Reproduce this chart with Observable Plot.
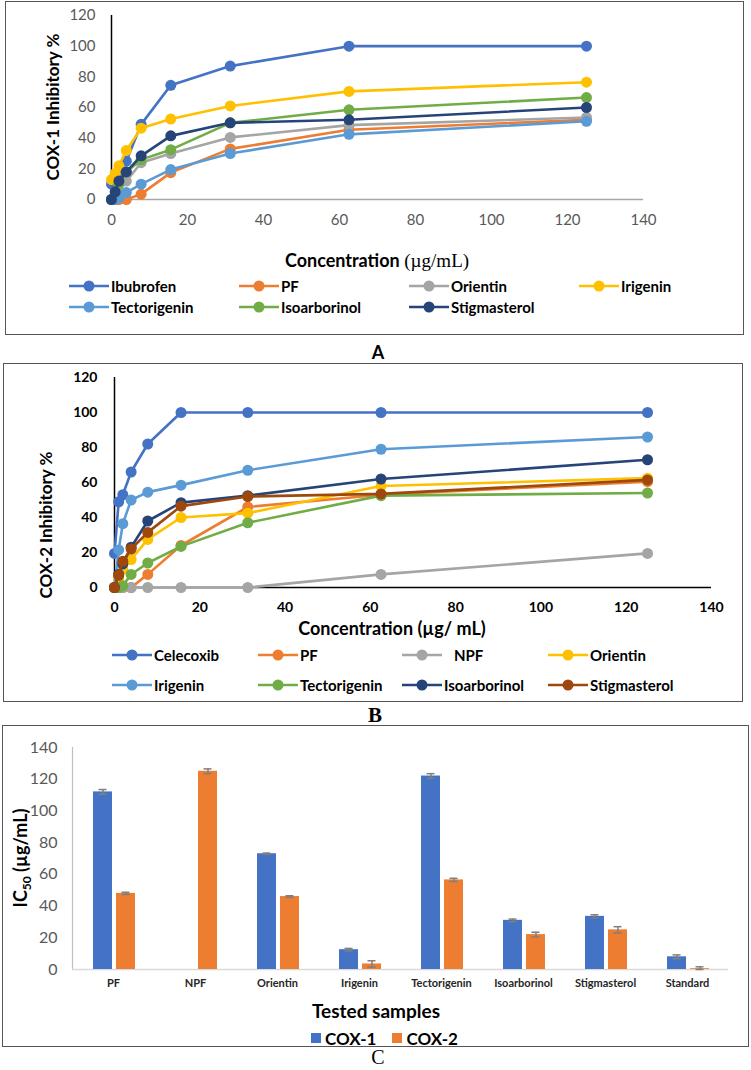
<!DOCTYPE html>
<html><head><meta charset="utf-8">
<script src="https://cdn.jsdelivr.net/npm/d3@7"></script>
<script src="https://cdn.jsdelivr.net/npm/@observablehq/plot@0.6"></script>
<style>
body{margin:0;background:#fff;}
#root{position:relative;width:751px;height:1070px;overflow:hidden;font-family:Lato,"Open Sans",sans-serif;background:#fff;}
.box{position:absolute;border:1.5px solid #555;box-sizing:border-box;}
.abs{position:absolute;white-space:nowrap;line-height:1;}
.leg{position:absolute;white-space:nowrap;display:flex;align-items:center;font-weight:bold;font-size:15px;color:#000;}
</style></head><body><div id="root"></div>
<script>
// ---------- DATA ----------
const conc = [0, 0.98, 1.95, 3.9, 7.8, 15.6, 31.25, 62.5, 125];

// Panel A (COX-1 inhibitory %)
const seriesA = ["Ibubrofen","PF","Orientin","Irigenin","Tectorigenin","Isoarborinol","Stigmasterol"];
const colorsA = ["#4472C4","#ED7D31","#A5A5A5","#FFC000","#5B9BD5","#70AD47","#264478"];
const ibubrofenA    = [10, 13, 17, 25, 49, 74.5, 87, 100, 100];
const pfA           = [0, 0, 0, 0, 3.5, 17.5, 33, 45.5, 52];
const orientinA     = [0, 3, 6, 12, 24, 30, 40.5, 48.5, 53.5];
const irigeninA     = [13, 17, 22, 32, 46.5, 52.5, 61, 70.5, 76.5];
const tectorigeninA = [0, 0, 1, 4.5, 10, 19.5, 30, 42.5, 51];
const isoarborinolA = [0, 5, 10, 18, 26, 32.5, 50, 58.5, 66.5];
const stigmasterolA = [0, 5, 12, 18, 28.5, 41.5, 50, 52, 60];
const valuesA = [ibubrofenA, pfA, orientinA, irigeninA, tectorigeninA, isoarborinolA, stigmasterolA];

// Panel B (COX-2 inhibitory %)
const seriesB = ["Celecoxib","PF","NPF","Orientin","Irigenin","Tectorigenin","Isoarborinol","Stigmasterol"];
const colorsB = ["#4472C4","#ED7D31","#A5A5A5","#FFC000","#5B9BD5","#70AD47","#264478","#9E480E"];
const celecoxibB    = [19.5, 49, 53, 66, 82, 100, 100, 100, 100];
const pfB           = [0, 0, 0, 0, 7.5, 24, 46, 53, 60.5];
const npfB          = [0, 0, 0, 0, 0, 0, 0, 7.5, 19.5];
const orientinB     = [0, 5, 10.5, 16, 27.5, 40, 42.5, 58, 62.5];
const irigeninB     = [0, 21.5, 36.5, 50, 54.5, 58.5, 67, 79, 86];
const tectorigeninB = [0, 0, 1, 7.5, 14, 23.5, 37, 52.5, 54];
const isoarborinolB = [0, 7.5, 13.5, 23, 38, 48.5, 52.5, 62, 73];
const stigmasterolB = [0, 7, 15, 22, 31.5, 46.5, 52, 53.5, 61.5];
const valuesB = [celecoxibB, pfB, npfB, orientinB, irigeninB, tectorigeninB, isoarborinolB, stigmasterolB];

// Panel C (IC50)
const samples = ["PF","NPF","Orientin","Irigenin","Tectorigenin","Isoarborinol","Stigmasterol","Standard"];
const cox1    = [112, null, 73, 12.5, 122, 31, 33.5, 8];
const cox1Err = [1.5, null, 0.4, 0.8, 1.5, 0.8, 1, 1.2];
const cox2    = [48, 125, 46, 3.5, 56.5, 22, 25, 0.5];
const cox2Err = [0.7, 1.5, 0.5, 2, 1, 1.5, 2, 1.2];
const enzymes = ["COX-1","COX-2"];
const enzymeColors = ["#4472C4","#ED7D31"];

const xTicks = [0,20,40,60,80,100,120,140];
const yTicksPct = [0,20,40,60,80,100,120];
const yTicksIC = [0,20,40,60,80,100,120,140];

// ---------- HELPERS ----------
const root = document.getElementById("root");
const FONT = "Lato, 'Open Sans', sans-serif";
function addText(html, x, y, style, rotate) {
  const d = document.createElement("div");
  d.className = "abs";
  d.innerHTML = html;
  d.style.left = x + "px"; d.style.top = y + "px";
  d.style.transform = "translate(-50%,-50%)" + (rotate ? " rotate(-90deg)" : "");
  Object.assign(d.style, style);
  root.appendChild(d);
}
function addBox(l, t, r, b) {
  const d = document.createElement("div");
  d.className = "box";
  Object.assign(d.style, {left: l + "px", top: t + "px", width: (r - l) + "px", height: (b - t) + "px"});
  root.appendChild(d);
}
function addSvg(svg, top) {
  svg.style.position = "absolute"; svg.style.left = "0px"; svg.style.top = top + "px";
  svg.style.background = "transparent";
  root.appendChild(svg);
}
function addLegend(x, y, color, label, textOffset) {
  const d = document.createElement("div");
  d.className = "leg";
  d.style.left = x + "px"; d.style.top = (y - 9) + "px"; d.style.height = "18px";
  d.innerHTML = `<svg width="40" height="14" style="margin-right:${textOffset}px"><line x1="0" x2="40" y1="7" y2="7" stroke="${color}" stroke-width="2.5"/><circle cx="20" cy="7" r="5.5" fill="${color}"/></svg><span>${label}</span>`;
  root.appendChild(d);
}
function longData(names, arrays) {
  return names.map((s, i) => conc.map((c, j) => ({series: s, conc: c, value: arrays[i][j]})));
}

// ---------- PANEL A ----------
addBox(5, 1, 744, 335);
const dataA = longData(seriesA, valuesA);
const plotA = Plot.plot({
  width: 751, height: 240,
  marginLeft: 111, marginRight: 108, marginTop: 15, marginBottom: 41,
  style: {fontFamily: FONT, fontSize: "15px", color: "#595959", background: "transparent"},
  x: {domain: [0, 140], ticks: xTicks, tickSize: 0, tickPadding: 15, label: null},
  y: {domain: [0, 120], ticks: yTicksPct, tickSize: 0, tickPadding: 16, label: null},
  marks: [
    Plot.ruleY([0], {stroke: "#a6a6a6", strokeWidth: 1.5}),
    Plot.ruleX([0], {stroke: "#000", strokeWidth: 1.5}),
    ...dataA.flatMap((d, i) => [
      Plot.line(d, {x: "conc", y: "value", stroke: colorsA[i], strokeWidth: 2.6}),
      Plot.dot(d, {x: "conc", y: "value", fill: colorsA[i], r: 5.5})
    ])
  ]
});
addSvg(plotA, 0);
addText("COX-1 Inhibitory %", 52, 107, {fontWeight: "bold", fontSize: "17px", color: "#000"}, true);
addText('<b>Concentration</b> <span style="font-family:\'Liberation Serif\',serif;font-size:19px">(µg/mL)</span>', 377, 260, {fontSize: "18px", color: "#000"});
const colsA = [69, 239, 409, 579], rowsA = [286, 307];
seriesA.forEach((s, i) => addLegend(colsA[i % 4], rowsA[Math.floor(i / 4)], colorsA[i], s, 2));
addText("A", 378, 352, {fontWeight: "bold", fontSize: "18px", color: "#000"});

// ---------- PANEL B ----------
addBox(3, 363, 743, 702);
const dataB = longData(seriesB, valuesB);
const plotB = Plot.plot({
  width: 751, height: 260,
  marginLeft: 114, marginRight: 40, marginTop: 15, marginBottom: 35,
  style: {fontFamily: FONT, fontSize: "14px", fontWeight: "bold", color: "#000", background: "transparent"},
  x: {domain: [0, 140], ticks: xTicks, tickSize: 0, tickPadding: 15, label: null},
  y: {domain: [0, 120], ticks: yTicksPct, tickSize: 0, tickPadding: 17, label: null},
  marks: [
    Plot.ruleY([0], {stroke: "#000", strokeWidth: 1.5}),
    Plot.ruleX([0], {stroke: "#000", strokeWidth: 1.5}),
    ...dataB.flatMap((d, i) => [
      Plot.line(d, {x: "conc", y: "value", stroke: colorsB[i], strokeWidth: 2.6}),
      Plot.dot(d, {x: "conc", y: "value", fill: colorsB[i], r: 5.5})
    ])
  ]
});
addSvg(plotB, 362);
addText("COX-2 Inhibitory %", 45, 525, {fontWeight: "bold", fontSize: "17px", color: "#000"}, true);
addText("Concentration (µg/ mL)", 392, 628, {fontWeight: "bold", fontSize: "18px", color: "#000"});
const colsB = [112, 258, 402, 548], rowsB = [655, 685];
seriesB.forEach((s, i) => addLegend(colsB[i % 4], rowsB[Math.floor(i / 4)], colorsB[i], s, s === "NPF" ? 12 : 2));
addText("B", 375, 715, {fontWeight: "bold", fontSize: "21px", color: "#000", fontFamily: "'Liberation Serif', serif"});

// ---------- PANEL C ----------
addBox(2, 725, 749, 1047);
const dataC1 = samples.map((s, i) => ({sample: s, value: cox1[i], err: cox1Err[i]})).filter(d => d.value != null);
const dataC2 = samples.map((s, i) => ({sample: s, value: cox2[i], err: cox2Err[i]})).filter(d => d.value != null);
const plotC = Plot.plot({
  width: 751, height: 270,
  marginLeft: 72, marginRight: 23, marginTop: 22, marginBottom: 26,
  style: {fontFamily: FONT, background: "transparent"},
  x: {domain: samples, padding: 0, label: null, axis: null},
  y: {domain: [0, 140], label: null, axis: null},
  marks: [
    Plot.axisY({ticks: yTicksIC, tickSize: 0, tickPadding: 15, fontSize: 16, fill: "#595959", label: null}),
    Plot.axisX({tickSize: 0, tickPadding: 10, fontSize: 11, fontWeight: "bold", fill: "#262626", label: null}),
    Plot.frame({anchor: "left", stroke: "#bfbfbf", strokeWidth: 1.2}),
    Plot.ruleY([0], {stroke: "#d9d9d9", strokeWidth: 1.5}),
    Plot.barY(dataC1, {x: "sample", y: "value", fill: enzymeColors[0], insetLeft: 21, insetRight: 42}),
    Plot.barY(dataC2, {x: "sample", y: "value", fill: enzymeColors[1], insetLeft: 44, insetRight: 19}),
    Plot.ruleX(dataC1, {x: "sample", y1: d => d.value - d.err, y2: d => d.value + d.err, dx: -10.5, stroke: "#7f7f7f", strokeWidth: 1.5}),
    Plot.tickY(dataC1, {x: "sample", y: d => d.value + d.err, insetLeft: 26.5, insetRight: 47.5, stroke: "#7f7f7f", strokeWidth: 1.5}),
    Plot.tickY(dataC1, {x: "sample", y: d => d.value - d.err, insetLeft: 26.5, insetRight: 47.5, stroke: "#7f7f7f", strokeWidth: 1.5}),
    Plot.ruleX(dataC2, {x: "sample", y1: d => d.value - d.err, y2: d => d.value + d.err, dx: 12.5, stroke: "#7f7f7f", strokeWidth: 1.5}),
    Plot.tickY(dataC2, {x: "sample", y: d => d.value + d.err, insetLeft: 49.5, insetRight: 24.5, stroke: "#7f7f7f", strokeWidth: 1.5}),
    Plot.tickY(dataC2, {x: "sample", y: d => Math.max(0, d.value - d.err), insetLeft: 49.5, insetRight: 24.5, stroke: "#7f7f7f", strokeWidth: 1.5})
  ]
});
addSvg(plotC, 725);
addText('IC<sub style="font-size:12px">50</sub> (µg/mL)', 22, 858, {fontWeight: "bold", fontSize: "18px", color: "#000"}, true);
addText("Tested samples", 376, 1010, {fontWeight: "bold", fontSize: "19px", color: "#000"});
// legend C
(() => {
  const d = document.createElement("div");
  d.className = "leg";
  Object.assign(d.style, {left: "311px", top: "1029px", height: "18px", fontSize: "17px"});
  d.innerHTML = enzymes.map((e, i) => `<span style="display:inline-block;width:10px;height:10px;background:${enzymeColors[i]};margin-right:4px"></span><span style="margin-right:16px">${e}</span>`).join("");
  root.appendChild(d);
})();
addText("C", 378, 1057, {fontSize: "20px", color: "#000", fontFamily: "'Liberation Serif', serif"});
</script></body></html>
